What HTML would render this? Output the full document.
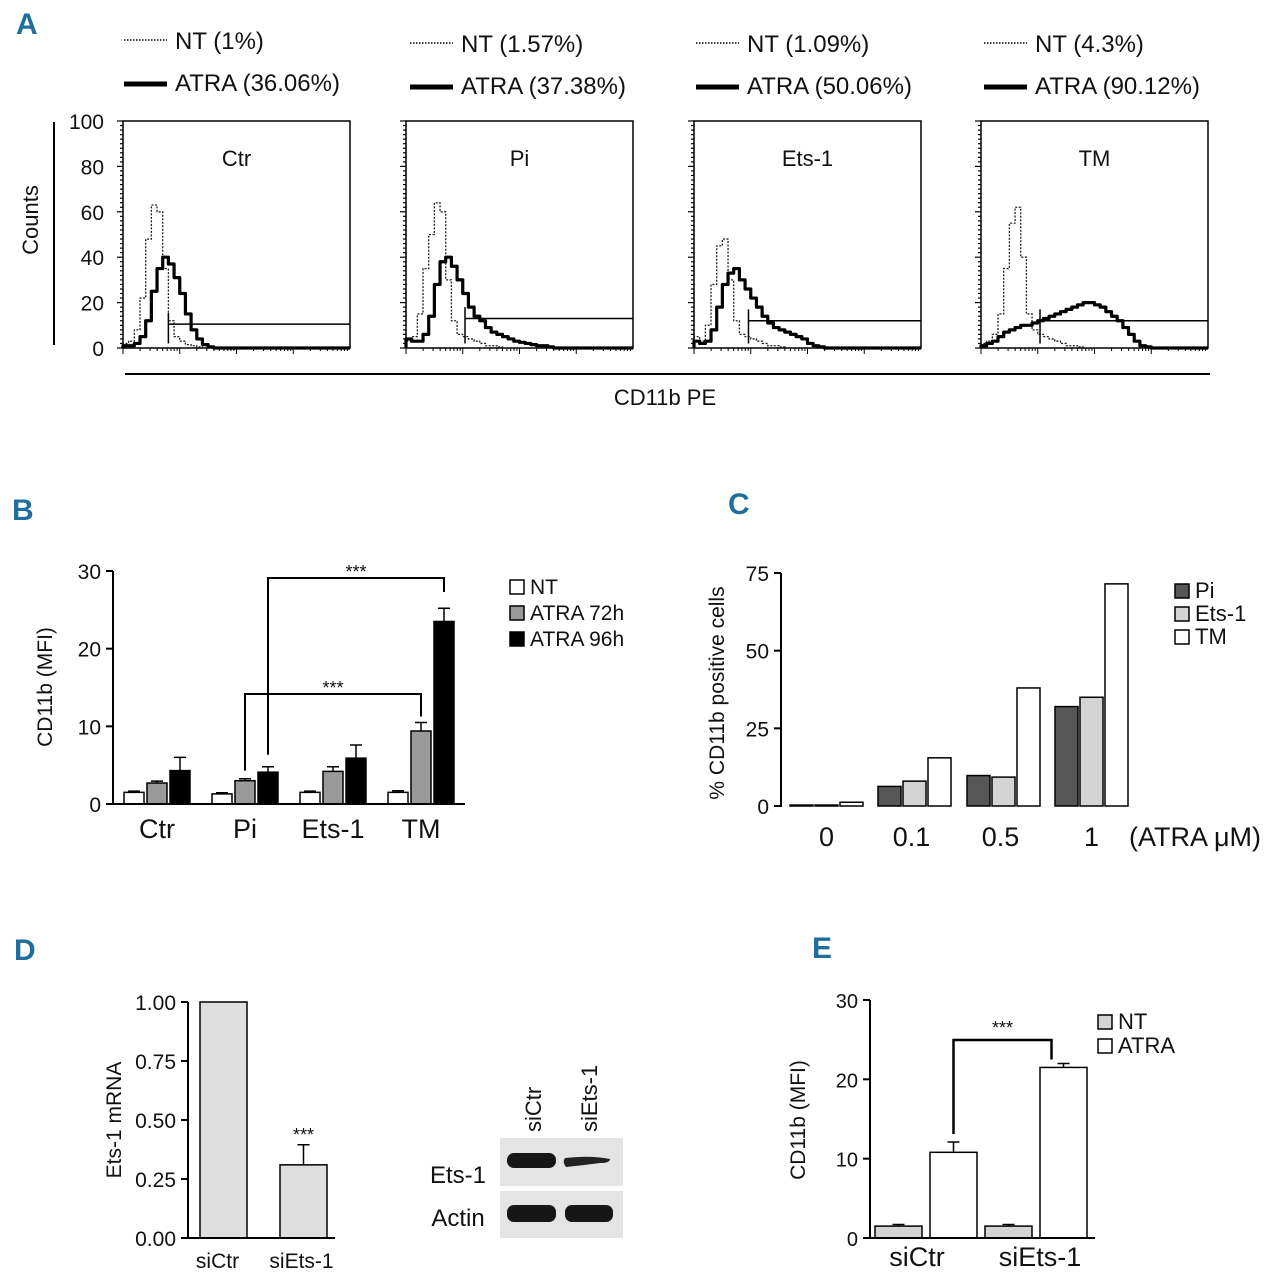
<!DOCTYPE html>
<html><head><meta charset="utf-8"><style>
html,body{margin:0;padding:0;background:#fff}
svg{display:block}
text{font-family:"Liberation Sans Narrow","Liberation Sans",sans-serif;fill:#111}
.pl{font-family:"Liberation Sans",sans-serif;font-weight:bold;fill:#1f6e9c;font-size:30px}
</style></head><body>
<svg id="fig" width="1272" height="1280" viewBox="0 0 1272 1280" xmlns="http://www.w3.org/2000/svg">
<text class="pl" x="16" y="34">A</text>
<text class="pl" x="12" y="520">B</text>
<text class="pl" x="728" y="514">C</text>
<text class="pl" x="14" y="960">D</text>
<text class="pl" x="812" y="958">E</text>
<g id="A"></g><g id="B"></g><g id="C"></g><g id="D"></g><g id="E"></g>
</svg>
<script>
// ---------- Panel A data ----------
const histTitles = ["Ctr","Pi","Ets-1","TM"];
const ntPct = ["NT (1%)","NT (1.57%)","NT (1.09%)","NT (4.3%)"];
const atraPct = ["ATRA (36.06%)","ATRA (37.38%)","ATRA (50.06%)","ATRA (90.12%)"];
const histNT = [
 [2,3,8,22,48,63,60,35,12,5,3,1.5,1,0.5],
 [3,5,15,35,50,64,60,30,12,6,5,4,3,2,1,1,0.5],
 [5,3,10,28,45,48,30,12,6,5,4,3,2,1,1,0.5],
 [2,3,6,15,35,55,62,40,15,8,6,5,4,3,2,1,1,0.5]
];
const histATRA = [
 [1,1,2,5,12,25,35,40,37,31,24,15,8,4,1.5,0.5],
 [4,3,3,6,14,28,38,40,36,30,24,18,14,12,9,7,6,5,4,3,2.5,2,1.5,1,1,0.5],
 [3,2,3,8,18,28,33,35,30,26,22,18,14,11,9,8,7,6,5,4,2,1,0.5],
 [1,2,3,5,7,8,9,10,10,11,12,13,14,15,16,17,18,19,20,20,19,18,16,14,12,9,6,3,1,0.5]
];
const gateX = [0.2,0.26,0.24,0.26];
const gateY = [10.5,13,12,12];
const histTicks = [0,20,40,60,80,100];
// ---------- Panel B data ----------
const bCats = ["Ctr","Pi","Ets-1","TM"];
const bSeries = ["NT","ATRA 72h","ATRA 96h"];
const bNT = [1.5,1.3,1.5,1.5];
const bA72 = [2.7,3.0,4.2,9.4];
const bA96 = [4.3,4.1,5.9,23.5];
const bErrNT = [0.15,0.15,0.15,0.2];
const bErr72 = [0.25,0.25,0.6,1.1];
const bErr96 = [1.7,0.7,1.7,1.7];
const bTicks = [0,10,20,30];
// ---------- Panel C data ----------
const cCats = ["0","0.1","0.5","1"];
const cSeries = ["Pi","Ets-1","TM"];
const cPi = [0.3,6.3,9.8,32];
const cEts = [0.3,8,9.3,35];
const cTM = [1.2,15.5,38,71.5];
const cTicks = [0,25,50,75];
// ---------- Panel D data ----------
const dCats = ["siCtr","siEts-1"];
const dVals = [1.0,0.31];
const dErr = [0,0.085];
const dTicks = ["0.00","0.25","0.50","0.75","1.00"];
// ---------- Panel E data ----------
const eCats = ["siCtr","siEts-1"];
const eNT = [1.5,1.5];
const eATRA = [10.8,21.5];
const eErrNT = [0.2,0.2];
const eErrATRA = [1.3,0.5];
const eTicks = [0,10,20,30];

const NS="http://www.w3.org/2000/svg";
function mk(parent,tag,attrs,txt){const e=document.createElementNS(NS,tag);for(const k in attrs)e.setAttribute(k,attrs[k]);if(txt!==undefined)e.textContent=txt;parent.appendChild(e);return e;}

// ---------- Panel A ----------
(function(){
 const g=document.getElementById('A');
 const boxX=[123,406,694,981], W=227, top=121, bot=348;
 const legX=[124,410,696,984], legY=[40,43,43,43];
 const ys=v=>bot-(v/100)*(bot-top);
 let el=mk(g,'line',{x1:54,y1:122,x2:54,y2:345,stroke:'#000','stroke-width':2});
 
 el=mk(g,'text',{x:38,y:220,'font-size':22,'text-anchor':'middle',transform:'rotate(-90 38 220)'},'Counts');
 
 el=mk(g,'line',{x1:125,y1:374,x2:1210,y2:374,stroke:'#000','stroke-width':2});
 
 el=mk(g,'text',{x:665,y:405,'font-size':22,'text-anchor':'middle'},'CD11b PE');
 
 histTicks.forEach(t=>{
  el=mk(g,'text',{x:104,y:ys(t)+8,'font-size':21,'text-anchor':'end'},String(t));
  
 });
 for(let p=0;p<4;p++){
  const x0=boxX[p], xs=f=>x0+f*W;
  const pg=mk(g,'g',{});
  
  
  el=mk(pg,'rect',{x:x0,y:top,width:W,height:bot-top,fill:'none',stroke:'#000','stroke-width':1.5});
  
  for(let i=0;i<=50;i++){const yy=top+i*(bot-top)/50;mk(pg,'line',{x1:x0-(i%10==0?6:3),y1:yy,x2:x0,y2:yy,stroke:'#000','stroke-width':1.2});}
  for(let d=0;d<4;d++)for(let k=1;k<=9;k++){const f=(d+Math.log10(k))/4;const xx=xs(f);mk(pg,'line',{x1:xx,y1:bot,x2:xx,y2:bot+(k==1?6:3),stroke:'#000','stroke-width':1});}
  el=mk(pg,'text',{x:x0+W/2,y:166,'font-size':22,'text-anchor':'middle'},histTitles[p]);
  
  const bw=1/40;
  function path(arr){let d='M'+xs(0)+' '+ys(0);arr.forEach((v,i)=>{d+=' L'+xs(i*bw)+' '+ys(v)+' L'+xs((i+1)*bw)+' '+ys(v);});d+=' L'+xs(arr.length*bw)+' '+ys(0)+' L'+xs(1)+' '+ys(0);return d;}
  el=mk(pg,'path',{d:path(histNT[p]),fill:'none',stroke:'#222','stroke-width':1.3,'stroke-dasharray':'2 1.5'});
  
  el=mk(pg,'path',{d:path(histATRA[p]),fill:'none',stroke:'#000','stroke-width':3.2,'stroke-linejoin':'round'});
  
  el=mk(pg,'path',{d:'M'+xs(gateX[p])+' '+ys(gateY[p]+5)+' V'+ys(2)+' M'+xs(gateX[p])+' '+ys(gateY[p])+' H'+xs(1),fill:'none',stroke:'#000','stroke-width':1.5});
  
  const lx=legX[p], ly=legY[p];
  el=mk(g,'line',{x1:lx,y1:ly,x2:lx+43,y2:ly,stroke:'#000','stroke-width':1.5,'stroke-dasharray':'1.5 1.5'});
  
  el=mk(g,'text',{x:lx+51,y:ly+9,'font-size':24},ntPct[p]);
  
  el=mk(g,'line',{x1:lx,y1:ly+44,x2:lx+43,y2:ly+44,stroke:'#000','stroke-width':5});
  
  el=mk(g,'text',{x:lx+51,y:ly+51,'font-size':24},atraPct[p]);
  
 }
})();

// generic bar helpers
function axisY(g,x,y0,y1,ticks,vmax,labels,fs){
 let el=mk(g,'line',{x1:x,y1:y0+1,x2:x,y2:y1,stroke:'#000','stroke-width':2});
 
 ticks.forEach((t,i)=>{const yy=y0-(t/vmax)*(y0-y1);
  mk(g,'line',{x1:x-7,y1:yy,x2:x,y2:yy,stroke:'#000','stroke-width':2});
  el=mk(g,'text',{x:x-12,y:yy+8,'font-size':fs,'text-anchor':'end'},labels?labels[i]:String(t));
  });
}
function bar(g,x,w,y0,h,fill,name){const el=mk(g,'rect',{x:x,y:y0-h,width:w,height:h,fill:fill,stroke:'#000','stroke-width':1.5});return el;}
function err(g,cx,ytop,ybar){const el=mk(g,'path',{d:'M'+cx+' '+ybar+' V'+ytop+' M'+(cx-6)+' '+ytop+' H'+(cx+6),stroke:'#000','stroke-width':1.5,fill:'none'});}
function legend(g,x,y,step,fills,labels,fs){labels.forEach((l,i)=>{let el=mk(g,'rect',{x:x,y:y+i*step-13,width:14,height:14,fill:fills[i],stroke:'#000','stroke-width':1.5});el=mk(g,'text',{x:x+20,y:y+i*step+1,'font-size':fs},l);});}

// ---------- Panel B ----------
(function(){
 const g=document.getElementById('B');const X=113,Y0=804,Y1=571,vmax=30;
 const ys=v=>Y0-(v/vmax)*(Y0-Y1);
 const groupX=[124,212,300,388],bw=20,gap=23;
 const series=[bNT,bA72,bA96],errs=[bErrNT,bErr72,bErr96],fills=['#fff','#9a9a9a','#000'];
 bCats.forEach((c,i)=>{series.forEach((s,j)=>{const x=groupX[i]+j*gap;bar(g,x,bw,Y0,Y0-ys(s[i]),fills[j],'bar-'+c.toLowerCase()+'-'+j);err(g,x+bw/2,ys(s[i]+errs[j][i]),ys(s[i]));});
  const el=mk(g,'text',{x:groupX[i]+gap+bw/2,y:838,'font-size':27,'text-anchor':'middle'},c);});
 let el=mk(g,'line',{x1:X,y1:Y0,x2:465,y2:Y0,stroke:'#000','stroke-width':2});
 axisY(g,X,Y0,Y1,bTicks,vmax,null,21);
 el=mk(g,'text',{x:52,y:687,'font-size':21,'text-anchor':'middle',transform:'rotate(-90 52 687)'},'CD11b (MFI)');
 const x96pi=groupX[1]+2*gap+bw/2,x96tm=groupX[3]+2*gap+bw/2,x72pi=groupX[1]+gap+bw/2,x72tm=groupX[3]+gap+bw/2;
 el=mk(g,'path',{d:'M'+x96pi+' '+(ys(bA96[1]+bErr96[1])-12)+' V578 H'+x96tm+' V592',stroke:'#000','stroke-width':2,fill:'none'});
 el=mk(g,'text',{x:(x96pi+x96tm)/2,y:578,'font-size':18,'text-anchor':'middle'},'***');
 el=mk(g,'path',{d:'M'+x72pi+' '+(ys(bA72[1]+bErr72[1])-8)+' V694 H'+x72tm+' V'+(ys(bA72[3]+bErr72[3])-6),stroke:'#000','stroke-width':2,fill:'none'});
 el=mk(g,'text',{x:(x72pi+x72tm)/2,y:694,'font-size':18,'text-anchor':'middle'},'***');
 legend(g,510,593,26,fills,bSeries,21);
})();

// ---------- Panel C ----------
(function(){
 const g=document.getElementById('C');const X=781,Y0=806,Y1=573,vmax=75;
 const ys=v=>Y0-(v/vmax)*(Y0-Y1);
 const groupX=[790,878,967,1055],bw=23,gap=25;
 const series=[cPi,cEts,cTM],fills=['#575757','#d4d4d4','#fff'];
 cCats.forEach((c,i)=>{series.forEach((s,j)=>{bar(g,groupX[i]+j*gap,bw,Y0,Y0-ys(s[i]),fills[j],'bar-'+c+'-'+cSeries[j].toLowerCase());});
  const el=mk(g,'text',{x:groupX[i]+gap+bw/2-10+ (i==0?10:i==3?10:7),y:846,'font-size':27,'text-anchor':'middle'},c);});
 let el=mk(g,'text',{x:1195,y:846,'font-size':27,'text-anchor':'middle'},'(ATRA μM)');
 axisY(g,X,Y0,Y1,cTicks,vmax,null,21);
 el=mk(g,'text',{x:724,y:693,'font-size':21,'text-anchor':'middle',transform:'rotate(-90 724 693)'},'% CD11b positive cells');
 legend(g,1175,597,23,fills,cSeries,22);
})();

// ---------- Panel D ----------
(function(){
 const g=document.getElementById('D');const X=188,Y0=1238,Y1=1002,vmax=1;
 const ys=v=>Y0-(v/vmax)*(Y0-Y1);
 const bx=[200,280],bw=47;
 dCats.forEach((c,i)=>{bar(g,bx[i],bw,Y0,Y0-ys(dVals[i]),'#dedede','bar-'+c.toLowerCase());if(dErr[i]>0)err(g,bx[i]+bw/2,ys(dVals[i]+dErr[i]),ys(dVals[i]));
  const el=mk(g,'text',{x:bx[i]+bw/2-(i==0?6:2),y:1268,'font-size':21,'text-anchor':'middle'},c);});
 let el=mk(g,'text',{x:bx[1]+bw/2,y:ys(dVals[1]+dErr[1])-4,'font-size':18,'text-anchor':'middle'},'***');
 el=mk(g,'line',{x1:X,y1:Y0,x2:335,y2:Y0,stroke:'#000','stroke-width':2});
 axisY(g,X,Y0,Y1,dTicks.map(Number),vmax,dTicks,21);
 el=mk(g,'text',{x:121,y:1120,'font-size':21,'text-anchor':'middle',transform:'rotate(-90 121 1120)'},'Ets-1 mRNA');
 const wb=mk(g,'g',{});
 mk(wb,'rect',{x:500,y:1138,width:123,height:48,fill:'#e4e4e4'});
 mk(wb,'rect',{x:500,y:1191,width:123,height:47,fill:'#e4e4e4'});
 el=mk(wb,'rect',{x:507,y:1153,width:49,height:15,rx:7,fill:'#161616'});
 el=mk(wb,'path',{d:'M565 1158 Q590 1155 610 1159 Q610 1163 600 1163 Q585 1165 566 1167 Q562 1162 565 1158 Z',fill:'#222'});
 el=mk(wb,'rect',{x:507,y:1205,width:49,height:17,rx:7,fill:'#161616'});
 el=mk(wb,'rect',{x:565,y:1205,width:48,height:17,rx:7,fill:'#161616'});
 el=mk(g,'text',{x:458,y:1183,'font-size':24,'text-anchor':'middle'},'Ets-1');
 el=mk(g,'text',{x:458,y:1226,'font-size':24,'text-anchor':'middle'},'Actin');
 el=mk(g,'text',{x:0,y:0,'font-size':22,transform:'translate(541 1132) rotate(-90)'},'siCtr');
 el=mk(g,'text',{x:0,y:0,'font-size':22,transform:'translate(597 1132) rotate(-90)'},'siEts-1');
})();

// ---------- Panel E ----------
(function(){
 const g=document.getElementById('E');const X=870,Y0=1238,Y1=1000,vmax=30;
 const ys=v=>Y0-(v/vmax)*(Y0-Y1);
 const gx=[875,985],bw=47,gap=55;
 eCats.forEach((c,i)=>{bar(g,gx[i],bw,Y0,Y0-ys(eNT[i]),'#d4d4d4','bar-'+c.toLowerCase()+'-nt');err(g,gx[i]+bw/2,ys(eNT[i]+eErrNT[i]),ys(eNT[i]));
  bar(g,gx[i]+gap,bw,Y0,Y0-ys(eATRA[i]),'#fff','bar-'+c.toLowerCase()+'-atra');err(g,gx[i]+gap+bw/2,ys(eATRA[i]+eErrATRA[i]),ys(eATRA[i]));
  const el=mk(g,'text',{x:gx[i]+(i==0?42:55),y:1266,'font-size':27,'text-anchor':'middle'},c);});
 let el=mk(g,'line',{x1:X,y1:Y0,x2:1095,y2:Y0,stroke:'#000','stroke-width':2});
 axisY(g,X,Y0,Y1,eTicks,vmax,null,20);
 el=mk(g,'text',{x:805,y:1120,'font-size':21,'text-anchor':'middle',transform:'rotate(-90 805 1120)'},'CD11b (MFI)');
 const xl=gx[0]+gap+bw/2,xr=gx[1]+gap+bw/2-12;
 el=mk(g,'path',{d:'M'+xl+' '+(ys(eATRA[0]+eErrATRA[0])-8)+' V1040 H'+xr+' V'+(ys(eATRA[1]+eErrATRA[1])-4),stroke:'#000','stroke-width':2.5,fill:'none'});
 el=mk(g,'text',{x:(xl+xr)/2,y:1034,'font-size':18,'text-anchor':'middle'},'***');
 legend(g,1098,1028,24,['#d4d4d4','#fff'],['NT','ATRA'],22);
})();
</script>
</body></html>
